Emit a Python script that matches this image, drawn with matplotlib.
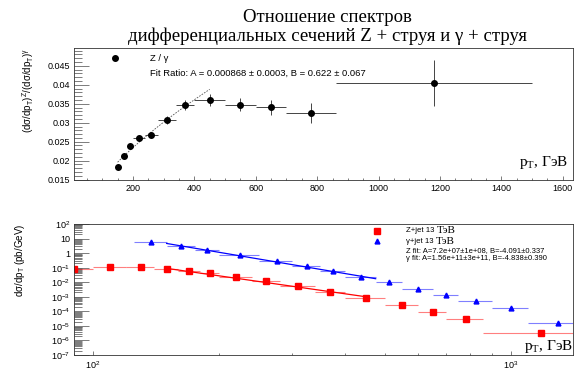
import matplotlib
matplotlib.use("Agg")
import matplotlib.pyplot as plt
import numpy as np
from matplotlib.ticker import FixedLocator, FixedFormatter, MultipleLocator, LogLocator, NullFormatter, FuncFormatter

plt.rcParams['font.family'] = ['Liberation Sans', 'DejaVu Sans']
plt.rcParams['mathtext.fontset'] = 'custom'
plt.rcParams['mathtext.rm'] = 'Liberation Serif'
plt.rcParams['mathtext.sf'] = 'Liberation Sans'
plt.rcParams['mathtext.it'] = 'Liberation Sans:italic'

# Отношение Z/гамма
ratio_x = [150, 170, 190, 220, 260, 310, 370, 450, 550, 650, 780, 1180]
ratio_lo = [140, 160, 180, 200, 240, 280, 340, 400, 500, 600, 700, 860]
ratio_hi = [160, 180, 200, 240, 280, 340, 400, 500, 600, 700, 860, 1500]
ratio_y = [0.0183, 0.0213, 0.0239, 0.0259, 0.0268, 0.0307, 0.0346, 0.0360, 0.0348, 0.0341, 0.0326, 0.0405]
ratio_err = [0.0007, 0.0007, 0.0007, 0.0007, 0.0008, 0.0010, 0.0013, 0.0017, 0.0018, 0.0020, 0.0026, 0.0060]
ratio_A, ratio_B = 0.000868, 0.622
ratio_fit_range = (150, 450)

# Z+jet
z_x = [90, 110, 130, 150, 170, 190, 220, 260, 310, 370, 450, 550, 650, 780, 1180]
z_lo = [80, 100, 120, 140, 160, 180, 200, 240, 280, 340, 400, 500, 600, 700, 860]
z_hi = [100, 120, 140, 160, 180, 200, 240, 280, 340, 400, 500, 600, 700, 860, 1500]
z_y = [0.08, 0.12, 0.105, 0.08, 0.059, 0.040, 0.023, 0.0126, 0.0055, 0.0022, 0.00085, 0.00026, 9.3e-5, 3.1e-5, 3.2e-6]
z_A, z_B = 7.2e7, -4.091
z_fit_range = (150, 450)

# gamma+jet
g_x = [137.5, 162.5, 187.5, 225, 275, 325, 375, 437.5, 512.5, 600, 700, 825, 1000, 1300]
g_lo = [125, 150, 175, 200, 250, 300, 350, 400, 475, 550, 650, 750, 900, 1100]
g_hi = [150, 175, 200, 250, 300, 350, 400, 475, 550, 650, 750, 900, 1100, 1500]
g_y = [5.8, 2.9, 1.63, 0.78, 0.30, 0.13, 0.062, 0.024, 0.0098, 0.0037, 0.0014, 0.00054, 0.00017, 1.5e-5]
g_A, g_B = 1.56e11, -4.838
g_fit_range = (150, 475)

serif = ['Liberation Serif', 'DejaVu Serif']
tick_col = '#666666'

fig = plt.figure(figsize=(5.79, 3.70), dpi=100)
ax1 = fig.add_axes([0.1278, 0.5135, 0.8618, 0.3568])
ax2 = fig.add_axes([0.1278, 0.0405, 0.8618, 0.354])

fig.text(327 / 579, 1 - 17 / 370, 'Отношение спектров', ha='center', va='center',
         family=serif, size=13.5)
fig.text(327 / 579, 1 - 36 / 370, 'дифференциальных сечений Z + струя и γ + струя',
         ha='center', va='center', family=serif, size=13.5)

# ---- верхний график ----
rx = np.array(ratio_x, dtype=float)
ax1.errorbar(rx, ratio_y, xerr=[rx - ratio_lo, np.array(ratio_hi) - rx], yerr=ratio_err,
             fmt='o', color='black', ms=4, ecolor='#444444', elinewidth=0.7, capsize=0)
xf = np.linspace(*ratio_fit_range, 100)
ax1.plot(xf, ratio_A * xf ** ratio_B, color='#555555', lw=0.6, ls=(0, (2, 1.5)))

ax1.set_xlim(8, 1633)
ax1.set_ylim(0.0149, 0.0497)
ax1.xaxis.set_major_locator(FixedLocator(np.arange(200, 1601, 200)))
ax1.xaxis.set_minor_locator(MultipleLocator(50))
ax1.yaxis.set_major_locator(MultipleLocator(0.005))
ax1.yaxis.set_minor_locator(MultipleLocator(0.001))
ax1.yaxis.set_major_formatter(FuncFormatter(lambda v, p: '%g' % round(v, 4)))
ax1.tick_params(axis='both', which='both', direction='in', color=tick_col, width=0.6,
                labelsize=6.5, top=False, right=False)
ax1.tick_params(axis='y', which='major', length=10.8, pad=3)
ax1.tick_params(axis='y', which='minor', length=5.8)
ax1.tick_params(axis='x', which='major', length=3, pad=3)
ax1.tick_params(axis='x', which='minor', length=1.6)

ax1.set_ylabel('(dσ/dp$_\\mathsf{T}$)$^\\mathsf{Z}$/(dσ/dp$_\\mathsf{T}$)$^\\mathsf{γ}$',
               fontsize=7, loc='top')
ax1.yaxis.set_label_coords(-0.076, 1.0)
ax1.text(0.99, 0.108, '$\\mathrm{p_{T}}$, ГэВ', transform=ax1.transAxes, ha='right',
         va='baseline', family=serif, size=11)

ax1.plot([0.082], [0.924], 'o', color='black', ms=4, transform=ax1.transAxes)
ax1.text(0.152, 0.924, 'Z / γ', transform=ax1.transAxes, va='center', size=6.8)
ax1.text(0.152, 0.81, 'Fit Ratio: A = 0.000868 ± 0.0003, B = 0.622 ± 0.067',
         transform=ax1.transAxes, va='center', size=6.8)

# ---- нижний график ----
zx = np.array(z_x, dtype=float)
ax2.errorbar(zx, z_y, xerr=[zx - z_lo, np.array(z_hi) - zx], fmt='s', color='red', ms=4,
             ecolor=(1, 0, 0, 0.5), elinewidth=0.8, capsize=0)
gx = np.array(g_x, dtype=float)
ax2.errorbar(gx, g_y, xerr=[gx - g_lo, np.array(g_hi) - gx], fmt='^', color='blue', ms=3.5,
             ecolor=(0, 0, 1, 0.5), elinewidth=0.8, capsize=0)
xz = np.linspace(*z_fit_range, 100)
ax2.plot(xz, z_A * xz ** z_B, color='red', lw=0.9)
xg = np.linspace(*g_fit_range, 100)
ax2.plot(xg, g_A * xg ** g_B, color='blue', lw=0.9)

ax2.set_xscale('log')
ax2.set_yscale('log')
ax2.set_xlim(90, 1410)
ax2.set_ylim(1e-7, 1e2)
ax2.xaxis.set_major_locator(FixedLocator([100, 1000]))
ax2.xaxis.set_major_formatter(FixedFormatter(['$\\mathsf{10^{2}}$', '$\\mathsf{10^{3}}$']))
ax2.xaxis.set_minor_locator(LogLocator(base=10, subs=np.arange(2, 10)))
ax2.xaxis.set_minor_formatter(NullFormatter())
ydec = [1e2, 10, 1, 1e-1, 1e-2, 1e-3, 1e-4, 1e-5, 1e-6, 1e-7]
ylabs = ['$\\mathsf{10^{2}}$', '10', '1'] + ['$\\mathsf{10^{-%d}}$' % k for k in range(1, 8)]
ax2.yaxis.set_major_locator(FixedLocator(ydec))
ax2.yaxis.set_major_formatter(FixedFormatter(ylabs))
ax2.yaxis.set_minor_locator(LogLocator(base=10, subs=np.arange(2, 10), numticks=20))
ax2.yaxis.set_minor_formatter(NullFormatter())
ax2.tick_params(axis='both', which='both', direction='in', color=tick_col, width=0.6,
                labelsize=6.5, top=False, right=False)
ax2.tick_params(axis='y', which='major', length=10.8, pad=3)
ax2.tick_params(axis='y', which='minor', length=5.8)
ax2.tick_params(axis='x', which='major', length=3, pad=3)
ax2.tick_params(axis='x', which='minor', length=1.6)

ax2.set_ylabel('dσ/dp$_\\mathsf{T}$ (pb/GeV)', fontsize=7, loc='top')
ax2.yaxis.set_label_coords(-0.094, 1.0)
ax2.text(1.0, 0.042, '$\\mathrm{p_{T}}$, ГэВ', transform=ax2.transAxes, ha='right',
         va='baseline', family=serif, size=11)

ax2.plot([0.6066], [0.947], 's', color='red', ms=4, transform=ax2.transAxes)
ax2.plot([0.6066], [0.870], '^', color='blue', ms=3.5, transform=ax2.transAxes)
t1 = ax2.text(0.665, 0.947, 'Z+jet 13 ', transform=ax2.transAxes, va='center', size=5.6)
ax2.annotate('ТэВ', xy=(1, 0.5), xycoords=t1, va='center', family=serif, size=8)
t2 = ax2.text(0.665, 0.870, 'γ+jet 13 ', transform=ax2.transAxes, va='center', size=5.6)
ax2.annotate('ТэВ', xy=(1, 0.5), xycoords=t2, va='center', family=serif, size=8)
ax2.text(0.665, 0.794, 'Z fit: A=7.2e+07±1e+08, B=-4.091±0.337', transform=ax2.transAxes,
         va='center', size=5.5)
ax2.text(0.665, 0.735, 'γ fit: A=1.56e+11±3e+11, B=-4.838±0.390', transform=ax2.transAxes,
         va='center', size=5.5)

for ax in (ax1, ax2):
    for s in ax.spines.values():
        s.set_linewidth(0.6)
        s.set_color('#333333')

fig.savefig('out.png', dpi=100)
